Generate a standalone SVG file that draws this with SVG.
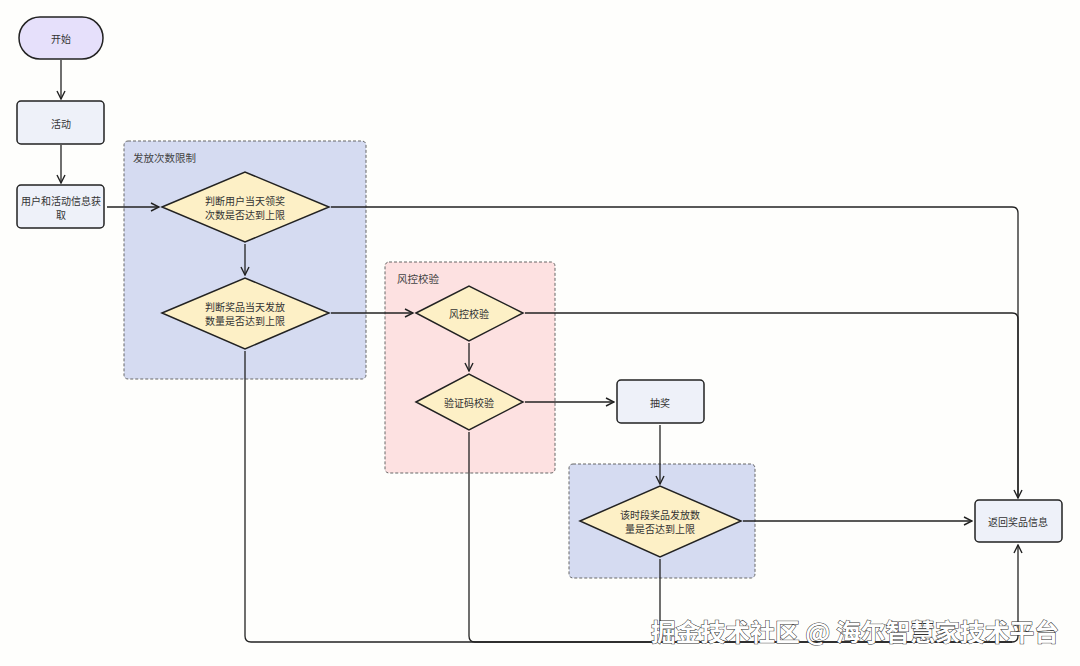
<svg xmlns="http://www.w3.org/2000/svg" width="1080" height="666" viewBox="0 0 1080 666">
<defs>
<marker id="arr" viewBox="0 0 10 10" refX="9" refY="5" markerWidth="10" markerHeight="10" markerUnits="userSpaceOnUse" orient="auto">
<path d="M1,1 L9,5 L1,9" fill="none" stroke="#222" stroke-width="1.4"/>
</marker>
</defs>
<style>
text{font-family:"Noto Sans CJK SC","Noto Sans",sans-serif;fill:#333;}
.t{font-size:10px;text-anchor:middle;dominant-baseline:central;}
.gl{font-size:10.5px;fill:#444;}
.box{fill:#eef1f9;stroke:#222;stroke-width:1.5;}
.dia{fill:#fdf0c6;stroke:#222;stroke-width:1.5;}
.grp{stroke:#666;stroke-width:1;stroke-dasharray:3 2;}
.c{fill:none;stroke:#222;stroke-width:1.3;}
.wm{font-size:24px;fill:#fff;stroke:#333;stroke-width:1;paint-order:stroke;font-weight:bold;}
</style>
<rect width="1080" height="666" fill="#fefefc"/>

<g id="group-limit"><rect class="grp" x="124" y="141" width="242" height="238" rx="4" fill="#d5dbf1"/><text class="gl" x="133" y="162">发放次数限制</text></g>
<g id="group-risk"><rect class="grp" x="385" y="262" width="170" height="211" rx="4" fill="#fde1e1"/><text class="gl" x="397" y="283">风控校验</text></g>
<g id="group-period"><rect class="grp" x="569" y="464" width="186" height="114" rx="4" fill="#d5dbf1"/></g>

<g id="connectors">
<path class="c" d="M61,60 V99" marker-end="url(#arr)"/>
<path class="c" d="M61,145 V183" marker-end="url(#arr)"/>
<path class="c" d="M107,207 H159" marker-end="url(#arr)"/>
<path class="c" d="M245,244 V275" marker-end="url(#arr)"/>
<path class="c" d="M331,207 H1012 Q1018,207 1018,213 V498" marker-end="url(#arr)"/>
<path class="c" d="M331,313 H413" marker-end="url(#arr)"/>
<path class="c" d="M525,313 H1012 Q1018,313 1018,319 V498"/>
<path class="c" d="M469,343 V371" marker-end="url(#arr)"/>
<path class="c" d="M525,402 H614" marker-end="url(#arr)"/>
<path class="c" d="M660,425 V484" marker-end="url(#arr)"/>
<path class="c" d="M743,521 H972" marker-end="url(#arr)"/>
<path class="c" d="M245,351 V636 Q245,642 251,642 H1012 Q1018,642 1018,636 V545" marker-end="url(#arr)"/>
<path class="c" d="M469,432 V636 Q469,642 475,642 H1012"/>
<path class="c" d="M660,559 V642"/>
</g>

<g id="start"><rect x="19" y="17" width="84" height="42" rx="21" fill="#e6e0fb" stroke="#222" stroke-width="1.5"/><text class="t" x="61" y="38">开始</text></g>
<g id="activity"><rect class="box" x="17" y="101" width="87" height="43" rx="4"/><text class="t" x="61" y="123">活动</text></g>
<g id="fetch-info"><rect class="box" x="17" y="185" width="87" height="43" rx="4"/><text class="t" x="61" y="200">用户和活动信息获</text><text class="t" x="61" y="214">取</text></g>
<g id="check-user"><polygon class="dia" points="162,207 245,172 329,207 245,242"/><text class="t" x="245" y="200">判断用户当天领奖</text><text class="t" x="245" y="214">次数是否达到上限</text></g>
<g id="check-prize"><polygon class="dia" points="162,313 245,278 329,313 245,349"/><text class="t" x="245" y="306">判断奖品当天发放</text><text class="t" x="245" y="320">数量是否达到上限</text></g>
<g id="risk-check"><polygon class="dia" points="416,313 469,286 523,313 469,341"/><text class="t" x="469" y="313">风控校验</text></g>
<g id="captcha-check"><polygon class="dia" points="416,402 469,374 523,402 469,430"/><text class="t" x="469" y="402">验证码校验</text></g>
<g id="draw"><rect class="box" x="617" y="380" width="87" height="43" rx="4"/><text class="t" x="660" y="402">抽奖</text></g>
<g id="check-period"><polygon class="dia" points="580,521 660,486 741,521 660,557"/><text class="t" x="660" y="514">该时段奖品发放数</text><text class="t" x="660" y="528">量是否达到上限</text></g>
<g id="return-prize"><rect class="box" x="975" y="500" width="87" height="42" rx="4"/><text class="t" x="1018" y="521">返回奖品信息</text></g>

<text class="wm" x="651" y="641" textLength="408" lengthAdjust="spacingAndGlyphs">掘金技术社区 @ 海尔智慧家技术平台</text>
</svg>
